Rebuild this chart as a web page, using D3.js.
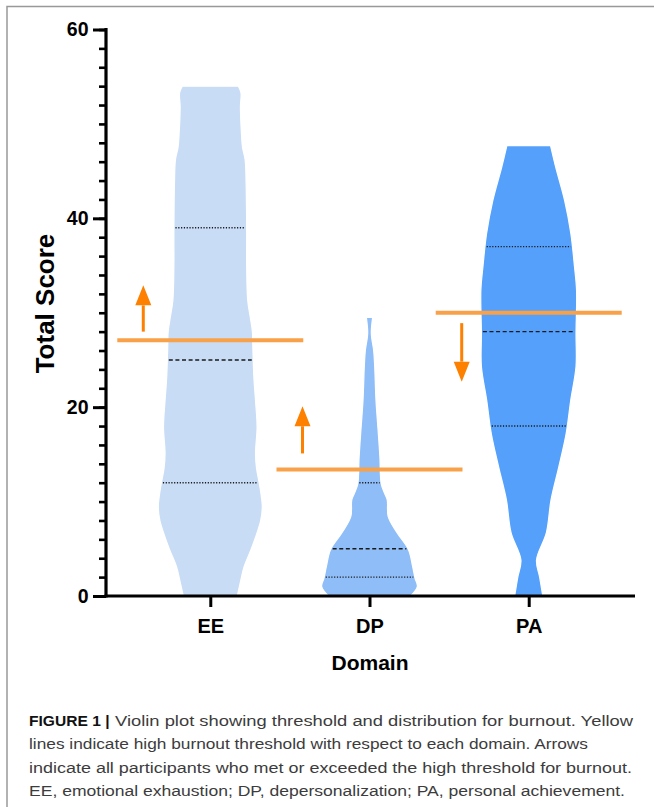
<!DOCTYPE html>
<html>
<head>
<meta charset="utf-8">
<script src="https://cdn.jsdelivr.net/npm/d3@7"></script>
<style>
  body { margin: 0; background: #fff; }
  svg { display: block; }
</style>
</head>
<body>
<div id="chart"></div>
<script>
// ---- data ----
var domains = ["EE", "DP", "PA"];
var yTicks = [0, 20, 40, 60];

// violin outlines: [score, relative density (widest violin = 100)]
var eeProfile = [[0, 52], [1.5, 58], [3.1, 65], [5, 79], [6.7, 90], [8, 97], [9.4, 100], [11, 97],
  [12, 94], [13.5, 89], [15.1, 87], [17.9, 90], [20.7, 87], [23, 84], [26, 82], [28, 81],
  [29.5, 77], [31.3, 72], [35, 70], [38.4, 70], [43.4, 69], [46.2, 67], [47.5, 62], [48.9, 60],
  [51.8, 58], [53.3, 59], [54, 54]];
var dpProfile = [[0, 79], [1, 92], [1.9, 87.5], [3.1, 83], [4.9, 75], [6.7, 53], [8.4, 36],
  [10.2, 34], [11, 28], [11.9, 22.5], [14.7, 20], [17.2, 17], [20.7, 12.5], [24.3, 10],
  [26, 8], [27.8, 3.5], [29.5, 6]];
var paProfile = [[0, 27], [2, 21], [3.8, 15], [6.7, 34], [10.2, 43], [13.7, 58], [17.2, 72],
  [20.8, 81], [24.3, 91], [27.8, 91], [32.4, 92], [34.9, 88], [38.4, 81], [41.9, 69],
  [45.4, 52], [47.7, 42]];

// lower quartile, median, upper quartile
var eeQuartiles = [12, 25, 39];
var dpQuartiles = [2, 5, 12];
var paQuartiles = [18, 28, 37];

// high burnout thresholds
var thresholds = [27.1, 13.4, 30];

// arrows: start score -> end score
var arrowFrom = [28, 15.1, 28.9];
var arrowTo = [32.9, 20.1, 22.7];

var caption = [
  "lines indicate high burnout threshold with respect to each domain. Arrows",
  "indicate all participants who met or exceeded the high threshold for burnout.",
  "EE, emotional exhaustion; DP, depersonalization; PA, personal achievement."
];

// ---- layout ----
var svgWidth = 654;
var svgHeight = 807;

var svg = d3.select("#chart")
  .append("svg")
  .attr("width", svgWidth)
  .attr("height", svgHeight);

var fontStack = "'Liberation Sans', Arial, Helvetica, sans-serif";

// frame of the figure
svg.append("path")
  .attr("d", "M7,807 V6.5 H654")
  .attr("fill", "none")
  .attr("stroke", "#999")
  .attr("stroke-width", 1.5);

var xScale = d3.scalePoint()
  .domain(domains)
  .range([106, 633])
  .padding(0.655);

var yScale = d3.scaleLinear()
  .domain([0, 60])
  .range([596, 29.5]);

var wScale = d3.scaleLinear()
  .domain([0, 100])
  .range([0, 52]);

var colors = d3.scaleOrdinal()
  .domain(domains)
  .range(["#c8dcf6", "#8fbdf7", "#55a0fa"]);

var profiles = [eeProfile, dpProfile, paProfile];
var quartiles = [eeQuartiles, dpQuartiles, paQuartiles];

var plot = svg.append("g");

domains.forEach(function(dom, i) {
  var cx = xScale(dom);
  var prof = profiles[i];

  var area = d3.area()
    .curve(d3.curveCatmullRom.alpha(0.5))
    .y(d => yScale(d[0]))
    .x0(d => cx - wScale(d[1]))
    .x1(d => cx + wScale(d[1]));

  plot.append("path")
    .datum(prof)
    .attr("d", area)
    .attr("fill", colors(dom))
    .attr("stroke", "#fff")
    .attr("stroke-width", 1.2)
    .attr("stroke-linejoin", "round");

  // density at a given score (piecewise linear through the outline)
  var dens = d3.scaleLinear()
    .domain(prof.map(d => d[0]))
    .range(prof.map(d => d[1]));

  quartiles[i].forEach(function(q, k) {
    var hw = wScale(dens(q)) - 1.5;
    plot.append("line")
      .attr("x1", cx - hw)
      .attr("x2", cx + hw)
      .attr("y1", yScale(q))
      .attr("y2", yScale(q))
      .attr("stroke", "#1a1a1a")
      .attr("stroke-width", 1.4)
      .attr("stroke-dasharray", k === 1 ? "4,2.6" : "1.2,1.6");
  });
});

// threshold lines
plot.selectAll(".threshold")
  .data(thresholds)
  .enter()
  .append("line")
  .attr("class", "threshold")
  .attr("x1", (d, i) => xScale(domains[i]) - 93)
  .attr("x2", (d, i) => xScale(domains[i]) + 93)
  .attr("y1", d => yScale(d))
  .attr("y2", d => yScale(d))
  .attr("stroke", "#f9a148")
  .attr("stroke-width", 4);

// arrows
domains.forEach(function(dom, i) {
  var ax = xScale(dom) - 67;
  var y0 = yScale(arrowFrom[i]);
  var tip = yScale(arrowTo[i]);
  var dir = y0 > tip ? 1 : -1;   // 1 = pointing up
  var base = tip + dir * 20;

  plot.append("line")
    .attr("x1", ax).attr("x2", ax)
    .attr("y1", y0).attr("y2", base)
    .attr("stroke", "#fe8000")
    .attr("stroke-width", 3);

  plot.append("path")
    .attr("d", `M${ax - 8},${base} L${ax + 8},${base} L${ax},${tip} Z`)
    .attr("fill", "#fe8000");
});

// ---- axes ----
var yAxisMinor = d3.axisLeft(yScale)
  .tickValues(d3.range(0, 61, 2))
  .tickSize(7)
  .tickFormat("");

var yAxisMajor = d3.axisLeft(yScale)
  .tickValues(yTicks)
  .tickSize(13)
  .tickPadding(4.5);

var gMinor = svg.append("g")
  .attr("transform", "translate(106,0)")
  .call(yAxisMinor);
gMinor.select(".domain").remove();
gMinor.selectAll(".tick line").attr("stroke", "#000").attr("stroke-width", 2.6);

var gMajor = svg.append("g")
  .attr("transform", "translate(106,0)")
  .call(yAxisMajor);
gMajor.select(".domain").remove();
gMajor.selectAll(".tick line").attr("stroke", "#000").attr("stroke-width", 3);
gMajor.selectAll(".tick text")
  .attr("fill", "#000")
  .style("font-family", fontStack)
  .style("font-weight", "bold")
  .style("font-size", "19.5px");

var xAxis = d3.axisBottom(xScale)
  .tickSize(11)
  .tickPadding(12);

var gx = svg.append("g")
  .attr("transform", "translate(0,596)")
  .call(xAxis);
gx.select(".domain").remove();
gx.selectAll(".tick line").attr("stroke", "#000").attr("stroke-width", 3);
gx.selectAll(".tick text")
  .attr("fill", "#000")
  .style("font-family", fontStack)
  .style("font-weight", "bold")
  .style("font-size", "20px");

// axis lines
svg.append("line")
  .attr("x1", 106).attr("x2", 106)
  .attr("y1", yScale(60) - 1.5).attr("y2", yScale(0) + 1.5)
  .attr("stroke", "#000").attr("stroke-width", 3.2);

svg.append("line")
  .attr("x1", 104.5).attr("x2", 635)
  .attr("y1", yScale(0)).attr("y2", yScale(0))
  .attr("stroke", "#000").attr("stroke-width", 3.2);

// axis titles
svg.append("text")
  .attr("transform", "translate(53.5,303.5) rotate(-90)")
  .attr("text-anchor", "middle")
  .style("font-family", fontStack)
  .style("font-weight", "bold")
  .style("font-size", "26px")
  .text("Total Score");

svg.append("text")
  .attr("x", 370)
  .attr("y", 670)
  .attr("text-anchor", "middle")
  .style("font-family", fontStack)
  .style("font-weight", "bold")
  .style("font-size", "21px")
  .text("Domain");

// ---- caption ----
var capFont = "15.4px";
svg.append("text")
  .attr("x", 29)
  .attr("y", 726)
  .attr("textLength", 80.5)
  .attr("lengthAdjust", "spacingAndGlyphs")
  .attr("fill", "#111")
  .style("font-family", fontStack)
  .style("font-weight", "bold")
  .style("font-size", capFont)
  .text("FIGURE 1 |");

svg.append("text")
  .attr("x", 115)
  .attr("y", 726)
  .attr("textLength", 518)
  .attr("lengthAdjust", "spacingAndGlyphs")
  .attr("fill", "#3c3c3c")
  .style("font-family", fontStack)
  .style("font-size", capFont)
  .text("Violin plot showing threshold and distribution for burnout. Yellow");

var capEnds = [588, 632, 625];
svg.selectAll(".cap")
  .data(caption)
  .enter()
  .append("text")
  .attr("class", "cap")
  .attr("x", 29)
  .attr("y", (d, i) => 749.3 + i * 23.4)
  .attr("textLength", (d, i) => capEnds[i] - 29)
  .attr("lengthAdjust", "spacingAndGlyphs")
  .attr("fill", "#3c3c3c")
  .style("font-family", fontStack)
  .style("font-size", capFont)
  .text(d => d);
</script>
</body>
</html>
